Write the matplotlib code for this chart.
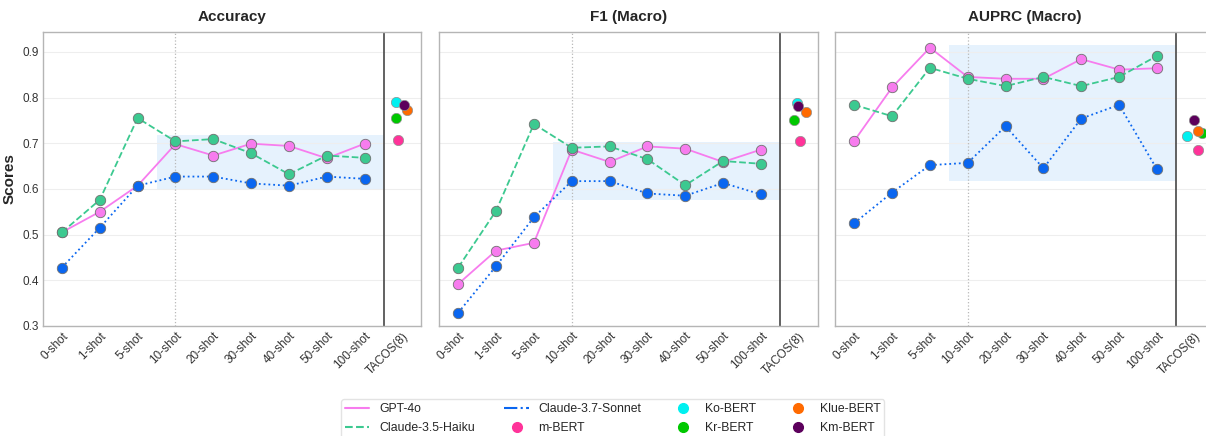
import numpy as np
import matplotlib
matplotlib.use('Agg')
import matplotlib.pyplot as plt
from matplotlib.lines import Line2D
import seaborn as sns

sns.set_style('whitegrid')
plt.rcParams['font.family'] = ['Liberation Sans', 'DejaVu Sans']

shots = ['0-shot', '1-shot', '5-shot', '10-shot', '20-shot', '30-shot',
         '40-shot', '50-shot', '100-shot']
tacos_label = 'TACOS(8)'
metrics = ['Accuracy', 'F1 (Macro)', 'AUPRC (Macro)']

# LLM scores per metric (0-shot ... 100-shot)
gpt4o = [
    [0.505, 0.550, 0.607, 0.698, 0.673, 0.699, 0.694, 0.667, 0.699],
    [0.392, 0.465, 0.482, 0.686, 0.659, 0.693, 0.688, 0.659, 0.686],
    [0.705, 0.822, 0.909, 0.845, 0.841, 0.841, 0.884, 0.861, 0.864],
]
haiku = [
    [0.505, 0.576, 0.755, 0.704, 0.709, 0.678, 0.632, 0.673, 0.668],
    [0.428, 0.552, 0.742, 0.690, 0.693, 0.665, 0.608, 0.661, 0.655],
    [0.784, 0.759, 0.865, 0.841, 0.825, 0.845, 0.825, 0.845, 0.891],
]
sonnet = [
    [0.428, 0.515, 0.607, 0.627, 0.627, 0.612, 0.607, 0.627, 0.622],
    [0.329, 0.431, 0.538, 0.617, 0.617, 0.590, 0.585, 0.613, 0.588],
    [0.525, 0.592, 0.652, 0.657, 0.737, 0.645, 0.754, 0.784, 0.643],
]

# TACOS(8) baselines per metric
bert_names = ['m-BERT', 'Ko-BERT', 'Kr-BERT', 'Klue-BERT', 'Km-BERT']
bert_scores = [
    [0.707, 0.790, 0.755, 0.772, 0.783],
    [0.705, 0.788, 0.751, 0.768, 0.781],
    [0.686, 0.716, 0.723, 0.727, 0.751],
]

# shaded band (low, high) per metric
bands = [(0.597, 0.718), (0.575, 0.702), (0.618, 0.915)]

# style
bert_colors = ['#ff3399', '#00f0f0', '#00c800', '#ff6a00', '#5c005c']
jitter = [
    [-0.11, -0.16, -0.18, 0.12, 0.04],
    [0.03, -0.06, -0.12, 0.19, -0.02],
    [0.08, -0.20, 0.19, 0.08, -0.01],
]
pink = '#f77cee'
green = '#3cc990'
blue = '#0a66f0'

fig = plt.figure(figsize=(12.06, 4.36), dpi=100)
W = 378.4 / 1206
lefts = [43 / 1206, 439.3 / 1206, 835.3 / 1206]
bottom = 1 - 326 / 436
height = (326 - 31.7) / 436

x = np.arange(len(shots))
for i, name in enumerate(metrics):
    ax = fig.add_axes([lefts[i], bottom, W, height])
    ax.axvspan(2.5, 8.5, ymin=(bands[i][0] - 0.3) / 0.644,
               ymax=(bands[i][1] - 0.3) / 0.644, color='#d6eafc', alpha=0.6, lw=0, zorder=0)
    ax.axvline(3, color='#b8b8b8', ls=':', lw=0.9, zorder=1)
    ax.axvline(8.5, color='#555555', lw=1.3, zorder=1)

    mk = dict(marker='o', ms=7.5, mec='#707070', mew=0.6)
    ax.plot(x, gpt4o[i], '-', color=pink, lw=1.3, mfc=pink, zorder=3, **mk)
    ax.plot(x, haiku[i], '--', color=green, lw=1.3, mfc=green, zorder=3, **mk)
    ax.plot(x, sonnet[i], ':', color=blue, lw=1.3, mfc=blue, zorder=3, **mk)

    for j in range(len(bert_names)):
        ax.scatter(9 + jitter[i][j], bert_scores[i][j], s=55, color=bert_colors[j],
                   edgecolor='#909090', linewidth=0.5, zorder=4)

    ax.set_xlim(-0.5, 9.5)
    ax.set_ylim(0.3, 0.944)
    ax.set_xticks(list(x) + [9])
    ax.set_xticklabels(shots + [tacos_label], rotation=45, ha='right',
                       rotation_mode='anchor', fontsize=8.5, color='#333333')
    ax.set_yticks([0.3, 0.4, 0.5, 0.6, 0.7, 0.8, 0.9])
    if i == 0:
        ax.set_yticklabels(['0.3', '0.4', '0.5', '0.6', '0.7', '0.8', '0.9'],
                           fontsize=8.5, color='#333333')
        ax.set_ylabel('Scores', fontsize=11, fontweight='bold')
    else:
        ax.set_yticklabels([])
    ax.tick_params(axis='both', length=0, pad=3)
    ax.grid(axis='x', visible=False)
    ax.grid(axis='y', color='#eeeeee', lw=0.8)
    for s in ax.spines.values():
        s.set_color('#b5b5b5')
        s.set_linewidth(1.0)
    ax.set_title(name, fontsize=11, fontweight='bold', pad=8)

handles = [
    Line2D([], [], color=pink, ls='-', lw=1.5),
    Line2D([], [], color=green, ls='--', lw=1.5),
    Line2D([], [], color=blue, ls='-.', lw=1.5),
    Line2D([], [], color=bert_colors[0], marker='o', ls='', ms=7),
    Line2D([], [], color=bert_colors[1], marker='o', ls='', ms=7),
    Line2D([], [], color=bert_colors[2], marker='o', ls='', ms=7),
    Line2D([], [], color=bert_colors[3], marker='o', ls='', ms=7),
    Line2D([], [], color=bert_colors[4], marker='o', ls='', ms=7),
]
labels = ['GPT-4o', 'Claude-3.5-Haiku', 'Claude-3.7-Sonnet', 'm-BERT',
          'Ko-BERT', 'Kr-BERT', 'Klue-BERT', 'Km-BERT']
fig.legend(handles, labels, loc='upper center', bbox_to_anchor=(0.508, 0.098),
           ncol=4, fontsize=8.8, frameon=True, edgecolor='#dddddd',
           columnspacing=2.4, handlelength=2.0, borderpad=0.3, labelspacing=0.6)

fig.savefig('out.png', dpi=100)
